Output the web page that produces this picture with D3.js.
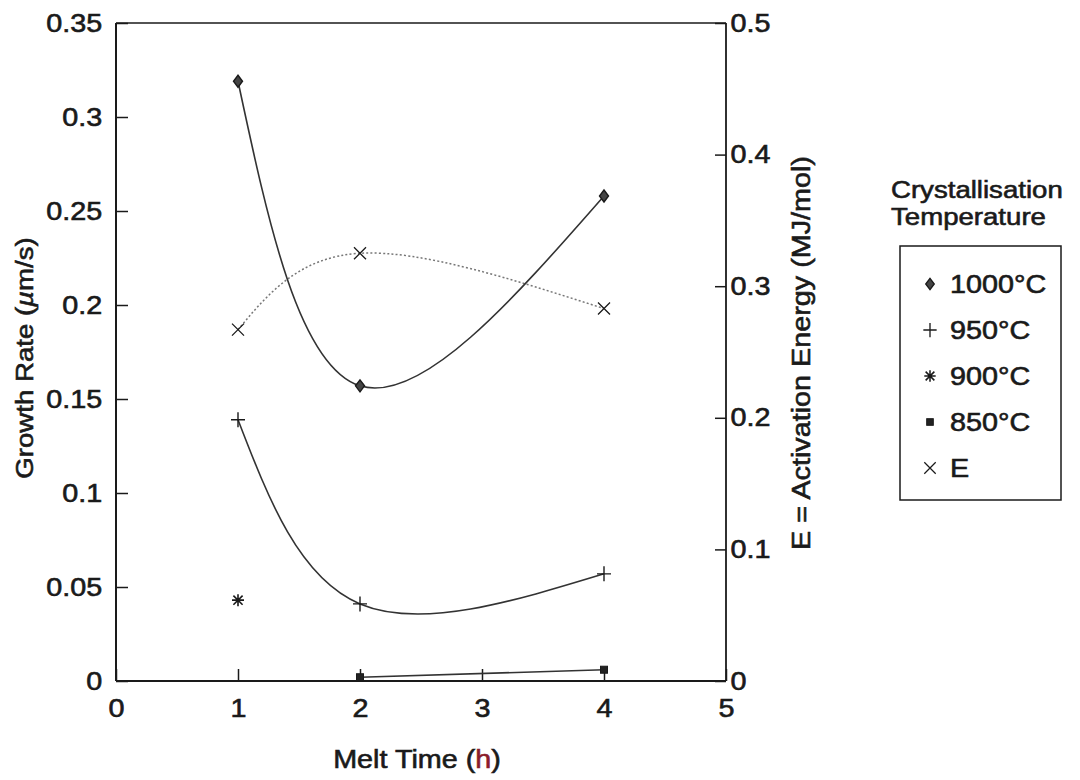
<!DOCTYPE html>
<html>
<head>
<meta charset="utf-8">
<script src="https://cdn.jsdelivr.net/npm/d3@7"></script>
<style>
  body { margin: 0; background: #fff; }
  svg text { font-family: "Liberation Sans", Arial, Helvetica, sans-serif; fill: #1a1a1a; stroke: #1a1a1a; stroke-width: 0.6px; }
</style>
</head>
<body>
<svg id="chart" width="1080" height="780"></svg>
<script>
// data
const meltTime = [1, 2, 4];
const rate1000 = [0.319, 0.157, 0.258];
const rate950 = [0.139, 0.041, 0.057];
const time900 = [1];
const rate900 = [0.043];
const time850 = [2, 4];
const rate850 = [0.002, 0.006];
const energyE = [0.267, 0.325, 0.283];

const xTicks = [0, 1, 2, 3, 4, 5];
const leftTicks = [0, 0.05, 0.1, 0.15, 0.2, 0.25, 0.3, 0.35];
const rightTicks = [0, 0.1, 0.2, 0.3, 0.4, 0.5];
const legendTitle = ["Crystallisation", "Temperature"];
const legendLabels = ["1000°C", "950°C", "900°C", "850°C", "E"];
const legendMarks = ["diamond", "plus", "star", "square", "times"];

const svg = d3.select("#chart");
const plot = { left: 116, right: 726, top: 23, bottom: 681 };
const stretch = "scale(1.15,1)";
const ink = "#1a1a1a";

const x = d3.scaleLinear().domain([0, 5]).range([plot.left, plot.right]);
const yL = d3.scaleLinear().domain([0, 0.35]).range([plot.bottom, plot.top]);
const yR = d3.scaleLinear().domain([0, 0.5]).range([plot.bottom, plot.top]);

// axes, ticks pointing inward
function styleAxis(s) {
  s.attr("font-size", 25).attr("font-family", null).attr("color", ink);
  s.select(".domain").remove();
  s.selectAll(".tick line").attr("stroke-width", 1.5);
  s.selectAll(".tick text").attr("transform", stretch);
}

svg.append("g")
  .attr("transform", `translate(0, ${plot.bottom})`)
  .call(d3.axisBottom(x).tickValues(xTicks).tickSize(-12).tickPadding(18).tickFormat(d3.format("d")))
  .call(styleAxis);

svg.append("g")
  .attr("transform", `translate(${plot.left}, 0)`)
  .call(d3.axisLeft(yL).tickValues(leftTicks).tickSize(-12).tickPadding(12).tickFormat(d => d))
  .call(styleAxis);

svg.append("g")
  .attr("transform", `translate(${plot.right}, 0)`)
  .call(d3.axisRight(yR).tickValues(rightTicks).tickSize(-11).tickPadding(4).tickFormat(d => d))
  .call(styleAxis);

// frame
const frame = svg.append("g").attr("stroke", ink).attr("fill", "none");
frame.append("line").attr("x1", plot.left).attr("x2", plot.left).attr("y1", plot.top).attr("y2", plot.bottom).attr("stroke-width", 2);
frame.append("line").attr("x1", plot.left).attr("x2", plot.right).attr("y1", plot.bottom).attr("y2", plot.bottom).attr("stroke-width", 2);
frame.append("line").attr("x1", plot.right).attr("x2", plot.right).attr("y1", plot.top).attr("y2", plot.bottom).attr("stroke-width", 1.8);
frame.append("line").attr("x1", plot.left).attr("x2", plot.right).attr("y1", plot.top).attr("y2", plot.top).attr("stroke-width", 1.6);

// axis titles
svg.append("text")
  .attr("transform", `translate(417, 768) ${stretch}`)
  .attr("text-anchor", "middle")
  .attr("font-size", 25)
  .call(t => {
    t.append("tspan").text("Melt Time (");
    t.append("tspan").text("h").style("fill", "#8b1c2c").style("stroke", "#8b1c2c");
    t.append("tspan").text(")");
  });

svg.append("text")
  .attr("transform", `translate(33, 358) rotate(-90) ${stretch}`)
  .attr("text-anchor", "middle")
  .attr("font-size", 24)
  .call(t => {
    t.append("tspan").text("Growth Rate (");
    t.append("tspan").text("µ").attr("font-style", "italic");
    t.append("tspan").text("m/s)");
  });

svg.append("text")
  .attr("transform", `translate(810, 353) rotate(-90) ${stretch}`)
  .attr("text-anchor", "middle")
  .attr("font-size", 25)
  .text("E = Activation Energy (MJ/mol)");

// marker shapes
function marker(g, type, cx, cy, k) {
  const m = g.append("g").attr("transform", `translate(${cx}, ${cy}) scale(${k})`);
  if (type === "diamond") {
    m.append("path").attr("d", "M0,-6L4.5,0L0,6L-4.5,0Z")
      .attr("fill", "#444").attr("stroke", ink).attr("stroke-width", 1.4);
  } else if (type === "plus") {
    m.append("path").attr("d", "M-7,0H7M0,-7.5V7.5")
      .attr("stroke", ink).attr("stroke-width", 1.4).attr("fill", "none");
  } else if (type === "times") {
    m.append("path").attr("d", "M-6,-6L6,6M-6,6L6,-6")
      .attr("stroke", ink).attr("stroke-width", 1.3).attr("fill", "none");
  } else if (type === "star") {
    m.append("path").attr("d", "M-6,0H6M0,-6V6M-4.6,-4.6L4.6,4.6M-4.6,4.6L4.6,-4.6")
      .attr("stroke", ink).attr("stroke-width", 1.6).attr("fill", "none");
  } else if (type === "square") {
    m.append("rect").attr("x", -3.5).attr("y", -3.5).attr("width", 7).attr("height", 7)
      .attr("fill", "#222").attr("stroke", ink).attr("stroke-width", 1);
  }
}

const curve = d3.line().curve(d3.curveNatural);
const lines = svg.append("g").attr("fill", "none");

lines.append("path")
  .attr("d", curve(meltTime.map((t, i) => [x(t), yR(energyE[i])])))
  .attr("stroke", "#777").attr("stroke-width", 1.5).attr("stroke-dasharray", "2,2.2");

lines.append("path")
  .attr("d", curve(meltTime.map((t, i) => [x(t), yL(rate1000[i])])))
  .attr("stroke", "#333").attr("stroke-width", 1.6);

lines.append("path")
  .attr("d", curve(meltTime.map((t, i) => [x(t), yL(rate950[i])])))
  .attr("stroke", "#333").attr("stroke-width", 1.6);

lines.append("path")
  .attr("d", curve(time850.map((t, i) => [x(t), yL(rate850[i])])))
  .attr("stroke", "#333").attr("stroke-width", 1.6);

const marks = svg.append("g");
meltTime.forEach((t, i) => marker(marks, "diamond", x(t), yL(rate1000[i]), 1));
meltTime.forEach((t, i) => marker(marks, "plus", x(t), yL(rate950[i]), 1));
time900.forEach((t, i) => marker(marks, "star", x(t), yL(rate900[i]), 1));
time850.forEach((t, i) => marker(marks, "square", x(t), yL(rate850[i]), 1));
meltTime.forEach((t, i) => marker(marks, "times", x(t), yR(energyE[i]), 1));

// legend
const legend = svg.append("g");
legendTitle.forEach((s, i) => {
  legend.append("text")
    .attr("transform", `translate(891, ${198 + i * 27}) ${stretch}`)
    .attr("font-size", 24)
    .text(s);
});
legend.append("rect")
  .attr("x", 900).attr("y", 246).attr("width", 161).attr("height", 254)
  .attr("fill", "none").attr("stroke", ink).attr("stroke-width", 1.5);
legendLabels.forEach((s, i) => {
  const base = 293 + i * 46;
  marker(legend, legendMarks[i], 930, base - 9, 0.95);
  legend.append("text")
    .attr("transform", `translate(950, ${base}) ${stretch}`)
    .attr("font-size", 25)
    .text(s);
});
</script>
</body>
</html>
